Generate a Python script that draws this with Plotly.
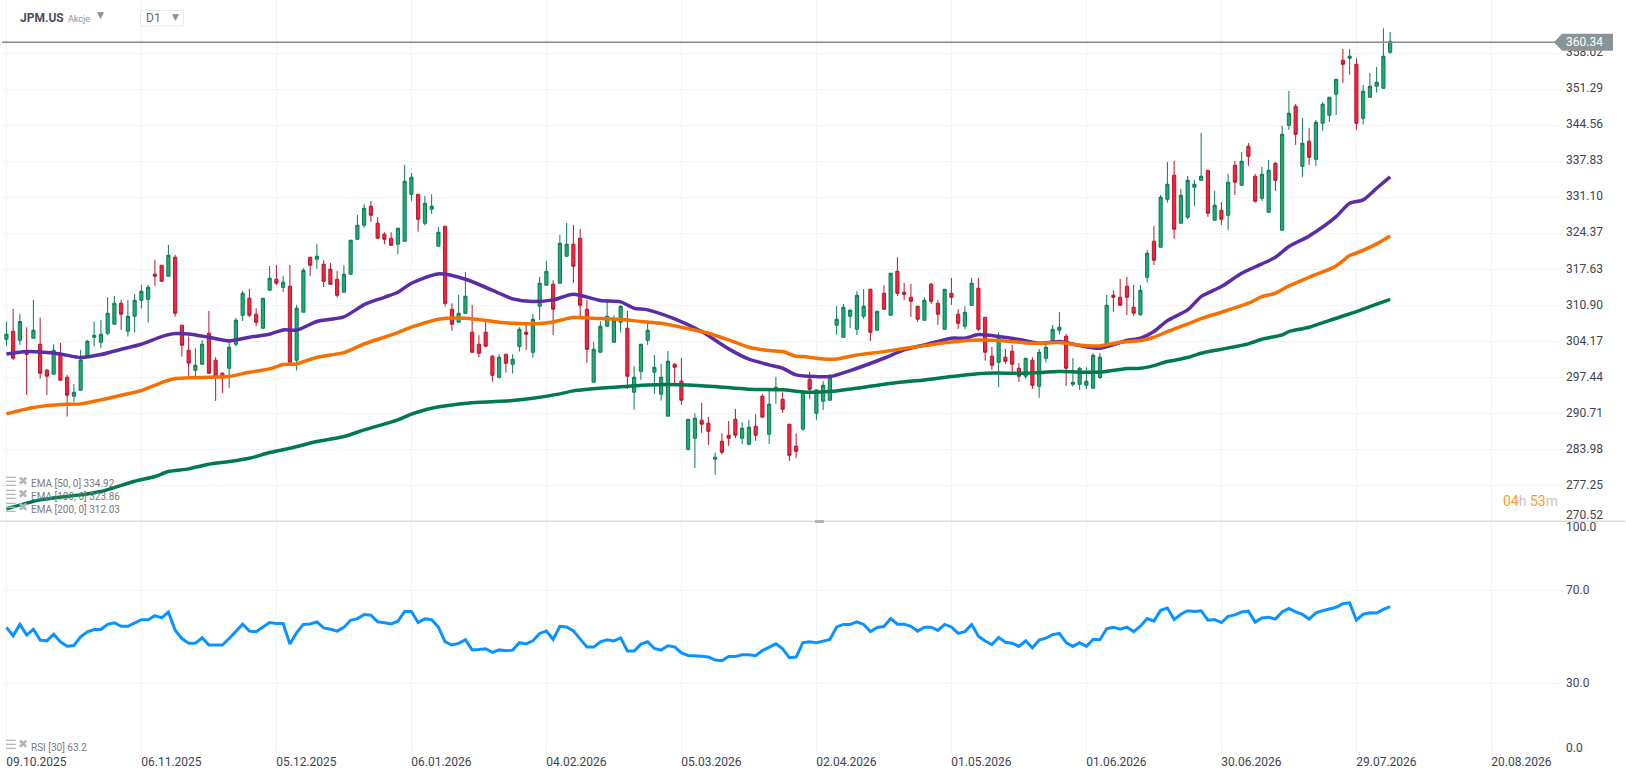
"""
plot.py — JPM.US daily candles with EMA 50/100/200 and an RSI pane below.
"""

import plotly.graph_objects as go
from plotly.subplots import make_subplots


# ── Data ──────────────────────────────────────────────────────────────────────

date_ticks = [0, 20, 40, 60, 80, 100, 120, 140, 160, 180, 200, 220]
date_labels = ["09.10.2025", "06.11.2025", "05.12.2025", "06.01.2026", "04.02.2026", "05.03.2026",
               "02.04.2026", "01.05.2026", "01.06.2026", "30.06.2026", "29.07.2026", "20.08.2026"]

price_ticks = [358.02, 351.29, 344.56, 337.83, 331.10, 324.37, 317.63,
               310.90, 304.17, 297.44, 290.71, 283.98, 277.25, 270.52]
rsi_ticks = [100, 70, 30, 0]

opens = [
    304.56, 306.06, 304.38, 301.95, 304.75, 303.63, 298.77, 298.02, 301.64, 297.46,
    293.91, 295.03, 301.32, 304.94, 304.00, 305.69, 307.37, 311.29, 306.06, 308.86,
    311.85, 312.04, 316.71, 318.39, 316.34, 319.89, 307.18, 302.51, 298.77, 299.89,
    305.69, 300.64, 298.21, 299.14, 303.63, 309.05, 312.23, 309.24, 306.62, 313.72,
    315.78, 314.28, 314.47, 300.64, 309.61, 319.89, 319.52, 318.58, 317.65, 315.78,
    313.35, 316.71, 323.25, 325.87, 329.42, 326.25, 324.19, 323.44, 322.32, 322.88,
    331.66, 331.66, 326.25, 328.86, 321.95, 325.69, 310.17, 307.74, 309.42, 305.87,
    303.63, 305.87, 301.39, 297.46, 301.76, 299.89, 303.19, 305.87, 302.13, 310.73,
    314.66, 314.84, 315.03, 320.08, 322.32, 323.44, 310.17, 296.53, 302.13, 307.00,
    304.00, 307.74, 306.62, 294.66, 298.58, 304.38, 298.40, 294.29, 290.18, 299.89,
    296.72, 284.00, 286.06, 289.43, 288.87, 282.14, 285.50, 286.62, 289.61, 286.06,
    284.94, 288.30, 293.91, 286.81, 295.03, 293.35, 288.68, 284.57, 287.78, 297.09,
    290.73, 292.97, 293.16, 307.18, 304.93, 308.86, 306.43, 308.86, 313.91, 306.24,
    313.16, 309.05, 317.27, 313.34, 312.41, 310.73, 308.11, 314.84, 311.29, 306.43,
    313.16, 309.23, 306.99, 310.91, 314.09, 308.67, 301.38, 300.26, 301.20, 302.32,
    299.14, 297.65, 300.64, 295.78, 301.01, 304.00, 306.24, 305.12, 296.15, 296.15,
    295.96, 295.40, 297.40, 303.51, 312.79, 312.42, 314.47, 310.55, 309.18, 316.15,
    322.88, 321.76, 330.73, 335.22, 326.25, 327.37, 332.97, 334.28, 336.15, 326.81,
    328.68, 327.74, 337.09, 333.35, 340.64, 335.03, 330.92, 328.30, 337.46, 324.94,
    344.56, 348.11, 336.90, 341.57, 338.21, 344.94, 346.43, 350.36, 356.71, 357.09,
    355.96, 345.87, 349.80, 351.85, 351.48, 358.21,
]
highs = [
    307.87, 310.23, 309.30, 306.81, 311.92, 308.61, 298.96, 303.63, 303.88, 297.90,
    296.15, 302.57, 304.44, 307.87, 308.18, 312.41, 312.66, 311.92, 311.92, 313.04,
    314.72, 314.72, 319.39, 318.39, 322.20, 320.33, 307.18, 305.06, 302.88, 304.44,
    309.86, 301.20, 298.40, 304.07, 308.55, 313.60, 313.97, 310.36, 312.23, 318.27,
    318.46, 316.40, 318.46, 310.98, 317.83, 319.89, 322.38, 319.33, 318.83, 317.34,
    318.39, 323.13, 327.80, 329.80, 330.42, 327.37, 324.56, 324.56, 325.31, 337.15,
    335.65, 331.66, 331.35, 331.66, 325.50, 325.69, 311.29, 312.85, 317.15, 310.98,
    305.31, 307.74, 301.64, 301.76, 301.76, 301.76, 306.81, 307.74, 309.30, 316.21,
    319.20, 315.59, 324.07, 326.30, 325.93, 325.19, 311.92, 304.07, 307.93, 312.04,
    309.05, 310.92, 309.86, 299.52, 303.63, 308.12, 301.64, 299.96, 302.38, 300.08,
    301.08, 289.61, 290.73, 292.67, 290.05, 283.38, 286.99, 289.30, 291.54, 289.05,
    289.49, 290.55, 294.29, 295.41, 297.52, 294.66, 288.68, 286.99, 295.10, 298.46,
    295.22, 296.71, 298.02, 310.79, 311.16, 310.23, 313.53, 313.97, 313.97, 309.79,
    314.65, 316.90, 319.89, 315.09, 314.90, 310.79, 312.41, 315.09, 311.85, 313.91,
    316.02, 310.17, 310.73, 316.02, 316.02, 308.67, 303.13, 305.87, 302.75, 303.50,
    300.08, 301.01, 301.20, 302.75, 303.81, 307.24, 309.67, 305.56, 301.01, 299.39,
    299.33, 301.94, 301.96, 312.85, 313.72, 315.84, 316.22, 314.72, 314.72, 321.26,
    325.75, 331.54, 337.71, 337.90, 332.66, 335.09, 334.35, 343.13, 336.15, 332.29,
    330.23, 335.47, 337.90, 339.58, 341.26, 335.47, 336.78, 338.08, 337.65, 344.44,
    350.98, 348.55, 345.93, 344.06, 345.56, 348.92, 349.80, 353.16, 358.83, 358.83,
    357.15, 352.10, 354.34, 355.47, 362.69, 362.01,
]
lows = [
    303.32, 300.70, 303.50, 294.16, 304.75, 297.15, 294.16, 298.02, 296.90, 290.11,
    292.85, 295.03, 301.32, 303.19, 302.94, 305.31, 307.37, 306.31, 305.06, 305.81,
    310.30, 307.68, 314.53, 315.41, 316.34, 308.80, 301.32, 297.71, 297.09, 299.89,
    298.21, 293.04, 294.53, 295.47, 303.19, 307.99, 308.68, 307.06, 306.62, 313.72,
    314.72, 313.41, 300.08, 298.71, 309.61, 316.40, 317.71, 314.34, 314.84, 312.35,
    313.35, 316.71, 323.25, 325.44, 326.49, 323.44, 322.32, 322.13, 320.51, 322.88,
    330.42, 324.69, 325.81, 327.99, 321.95, 310.67, 306.18, 307.74, 309.42, 301.95,
    301.14, 303.07, 296.65, 297.21, 298.33, 298.15, 302.26, 302.57, 301.14, 308.18,
    314.66, 305.37, 315.03, 320.08, 315.09, 308.86, 300.14, 296.53, 302.13, 307.00,
    304.00, 305.81, 295.28, 291.42, 296.97, 303.50, 294.35, 293.11, 290.18, 296.15,
    292.29, 283.75, 280.52, 287.06, 284.82, 279.21, 283.01, 284.63, 286.06, 285.00,
    284.75, 285.56, 289.99, 285.00, 292.48, 290.80, 281.82, 282.38, 287.40, 293.41,
    289.48, 291.35, 293.16, 305.37, 304.93, 306.68, 305.37, 308.36, 304.25, 306.24,
    310.17, 309.05, 312.66, 311.91, 308.73, 307.80, 308.11, 311.16, 307.24, 306.43,
    310.98, 306.49, 306.49, 310.91, 306.12, 300.57, 298.83, 295.65, 299.95, 298.46,
    296.59, 297.15, 295.28, 293.60, 300.20, 304.00, 305.43, 295.84, 295.71, 295.09,
    295.28, 295.40, 297.10, 303.51, 309.68, 310.92, 309.11, 308.93, 308.93, 315.16,
    318.46, 321.76, 330.11, 323.32, 326.25, 327.00, 329.49, 334.28, 327.43, 326.81,
    325.93, 324.98, 331.54, 333.35, 336.96, 330.11, 330.42, 328.30, 332.29, 324.94,
    343.69, 340.89, 334.91, 337.15, 336.96, 343.50, 345.19, 346.49, 352.48, 353.97,
    343.69, 344.69, 349.80, 350.67, 351.48, 357.96,
]
closes = [
    305.50, 301.02, 307.87, 301.76, 306.25, 298.21, 297.65, 302.51, 296.90, 294.10,
    294.66, 300.70, 304.19, 305.31, 305.50, 309.42, 311.29, 309.24, 308.86, 311.85,
    313.54, 314.28, 316.34, 315.41, 320.27, 309.42, 303.44, 300.08, 299.70, 303.63,
    298.21, 297.65, 297.46, 303.07, 308.12, 313.16, 309.05, 307.74, 312.23, 315.97,
    315.03, 315.22, 300.27, 310.36, 317.46, 318.39, 320.08, 315.41, 314.84, 312.79,
    316.71, 323.07, 325.87, 329.05, 327.74, 323.44, 323.25, 322.13, 325.31, 334.10,
    334.84, 326.99, 329.98, 329.42, 324.56, 311.29, 307.37, 309.42, 312.60, 302.13,
    301.95, 303.26, 297.84, 301.20, 300.08, 300.83, 306.43, 305.50, 308.30, 315.03,
    317.27, 310.17, 322.51, 322.32, 318.21, 310.92, 302.69, 302.69, 307.00, 308.86,
    308.12, 310.73, 297.65, 297.46, 303.63, 306.25, 299.33, 297.46, 300.46, 299.33,
    293.17, 289.61, 289.80, 288.68, 287.37, 282.51, 283.44, 286.06, 286.62, 287.93,
    288.12, 286.62, 289.99, 292.42, 295.59, 291.48, 282.88, 283.63, 294.70, 295.22,
    295.09, 295.96, 297.46, 308.30, 310.54, 309.98, 312.78, 310.73, 305.87, 309.79,
    310.17, 316.90, 313.16, 312.97, 311.66, 308.30, 311.85, 311.66, 309.23, 313.91,
    312.41, 307.55, 309.61, 315.03, 306.43, 302.13, 299.70, 304.75, 300.45, 299.89,
    297.65, 301.01, 295.96, 302.13, 303.07, 306.43, 306.80, 299.14, 296.52, 299.14,
    296.71, 301.57, 301.21, 310.92, 312.42, 310.92, 312.42, 309.43, 313.72, 320.64,
    319.33, 331.11, 333.54, 325.13, 331.48, 334.28, 333.54, 335.03, 328.12, 329.61,
    326.99, 333.91, 333.91, 337.83, 338.77, 330.36, 335.40, 336.15, 334.28, 342.88,
    346.81, 342.88, 341.20, 338.58, 345.12, 348.49, 349.80, 353.16, 355.96, 357.46,
    344.94, 350.92, 351.85, 352.60, 357.46, 360.26,
]

# EMA values read at the candles where the curve could be measured
ema50_x = [0, 3, 5, 8, 11, 14, 17, 20, 23, 25, 27, 30, 33, 36, 39, 41, 43, 46, 50, 53, 56, 58,
           60, 64, 68, 73, 75, 78, 81, 84, 88, 91, 93, 95, 99, 103, 107, 110, 113, 115, 117,
           120, 122, 125, 130, 133, 136, 140, 142, 144, 147, 151, 153, 156, 159, 162,
           166, 168, 170, 172, 175, 177, 180, 183, 186, 188, 190, 193, 197, 199, 201, 203, 205]
ema50 = [301.82, 302.26, 302.20, 301.82, 301.14, 301.70, 302.69, 303.63, 305.06, 305.62, 305.56,
         304.94, 304.25, 304.94, 305.50, 306.31, 306.25, 307.87, 308.74, 311.04, 312.41, 313.35,
         315.03, 316.78, 315.78, 313.16, 312.10, 311.60, 311.92, 312.97, 311.79, 311.54, 310.36,
         310.05, 308.37, 306.00, 302.76, 300.83, 299.77, 299.14, 297.90,
         297.58, 297.58, 298.70, 301.01, 302.57, 303.50, 304.75, 304.75, 305.43, 305.06, 304.31,
         303.81, 304.12, 303.38, 302.88,
         304.32, 304.75, 306.00, 308.05, 310.05, 312.54, 314.41, 316.90, 318.65, 319.89, 321.89,
         323.88, 327.49, 329.99, 330.61, 332.79, 334.92]

ema100_x = [0, 4, 8, 11, 14, 17, 20, 23, 25, 30, 33, 36, 39, 41, 43, 46, 50, 53, 56, 58,
            60, 64, 68, 73, 75, 79, 81, 84, 88, 91, 94, 97, 100, 104, 107, 110, 113, 115, 117,
            118, 121, 123, 126, 130, 135, 140, 144, 148, 152, 156, 159, 162,
            165, 168, 170, 172, 175, 177, 180, 184, 186, 188, 190, 193, 197, 199, 200, 203, 205]
ema100 = [290.61, 291.80, 292.36, 292.48, 293.23, 294.10, 294.97, 296.47, 297.21, 297.46, 297.59,
          298.40, 299.02, 299.83, 299.95, 301.20, 302.07, 303.69, 304.94, 305.81,
          306.81, 308.30, 308.49, 307.74, 307.55, 307.49, 307.80, 308.61, 308.43, 308.30, 307.87,
          307.55, 306.81, 305.69, 304.44, 303.07, 302.45, 302.26, 301.39,
          301.32, 300.88, 300.88, 301.63, 302.25, 303.19, 304.06, 304.44, 304.25, 303.81, 303.94,
          303.44, 303.32,
          304.01, 304.32, 304.94, 305.99, 307.43, 308.43, 309.61, 311.30, 312.54, 313.16, 314.53,
          316.15, 318.27, 320.21, 320.64, 322.39, 323.86]

ema200_x = [0, 5, 11, 14, 19, 22, 24, 27, 30, 33, 36, 39, 42, 46, 50, 53, 58,
            60, 63, 69, 75, 78, 82, 84, 90, 95, 101, 105, 110, 115, 118,
            122, 127, 132, 136, 140, 145, 151, 156, 162,
            166, 168, 170, 172, 175, 177, 180, 184, 186, 189, 190, 193, 197, 200, 202, 205]
ema200 = [272.87, 274.54, 275.47, 276.09, 278.02, 278.90, 279.83, 280.33, 281.20, 281.70, 282.32,
          283.38, 284.19, 285.44, 286.37, 287.62, 289.49,
          290.55, 291.67, 292.67, 293.11, 293.54, 294.35, 294.91, 295.59, 296.03, 296.03, 295.72,
          295.22, 295.10, 294.72,
          294.78, 295.59, 296.46, 296.96, 297.58, 298.21, 298.21, 298.52, 298.39,
          299.08, 299.15, 299.64, 300.39, 301.14, 301.95, 302.70, 303.70, 304.57, 305.38, 306.00,
          306.81, 308.49, 309.74, 310.67, 312.03]

rsi = [
    54.2, 50.6, 55.5, 50.9, 53.4, 48.7, 48.4, 51.3, 48.0, 46.1,
    46.4, 50.1, 52.3, 53.3, 53.3, 55.5, 56.2, 54.7, 54.7, 56.2,
    57.5, 57.5, 59.3, 58.3, 60.8, 53.0, 49.4, 47.4, 47.4, 49.7,
    46.6, 46.6, 46.6, 49.4, 52.6, 55.6, 52.6, 52.3, 54.4, 56.3,
    55.9, 55.9, 47.0, 52.0, 55.5, 55.7, 56.6, 54.0, 53.4, 52.6,
    54.2, 57.3, 58.0, 59.8, 59.5, 56.6, 56.2, 55.7, 56.9, 61.1,
    61.1, 56.3, 57.9, 57.5, 54.3, 48.0, 46.6, 47.3, 48.9, 44.5,
    44.7, 45.0, 43.4, 44.5, 44.1, 44.4, 47.6, 47.1, 48.4, 51.6,
    52.6, 49.0, 54.7, 54.4, 52.7, 49.4, 45.7, 45.7, 48.0, 48.9,
    48.4, 49.7, 44.0, 44.0, 47.0, 48.0, 45.1, 44.4, 46.3, 45.8,
    43.2, 42.1, 42.0, 41.8, 41.4, 40.1, 39.8, 41.7, 41.7, 42.4,
    42.4, 42.0, 44.2, 45.5, 47.1, 45.0, 41.1, 41.4, 47.6, 48.0,
    47.6, 48.3, 49.0, 54.4, 55.5, 55.5, 56.6, 55.5, 52.4, 54.2,
    54.6, 58.0, 55.6, 55.6, 54.7, 52.6, 54.3, 54.3, 52.9, 55.5,
    54.4, 51.6, 52.4, 55.5, 50.4, 48.3, 46.8, 49.9, 47.8, 47.4,
    46.0, 48.4, 45.4, 48.7, 49.6, 51.1, 51.6, 47.6, 46.0, 47.6,
    46.0, 49.1, 48.9, 53.6, 54.3, 53.4, 54.3, 52.4, 54.7, 58.0,
    56.9, 61.6, 62.6, 57.6, 59.9, 61.4, 61.1, 61.4, 57.3, 57.6,
    56.3, 59.0, 59.6, 60.9, 61.2, 56.5, 58.3, 58.6, 57.8, 60.9,
    62.4, 60.9, 59.8, 57.8, 60.5, 61.4, 62.1, 62.9, 64.4, 64.8,
    57.3, 59.9, 60.5, 60.4, 62.0, 63.2,
]

last_price = 360.1
last_price_label = "360.34"
legend_labels = ["EMA [50, 0] 334.92", "EMA [100, 0] 323.86", "EMA [200, 0] 312.03"]
rsi_label = "RSI [30] 63.2"


# ── Layout helpers ────────────────────────────────────────────────────────────

W, H = 1626, 779
LEFT, RIGHT, BOTTOM = 2, 1563, 753
SPLIT = 521.3


def px(x):
    return (x - LEFT) / (RIGHT - LEFT)


def py(y):
    return (BOTTOM - y) / BOTTOM


def label(text, x, y, size=12, color="#3d4450", font="Roboto", **kw):
    fig.add_annotation(text=text, x=px(x), y=py(y), xref="paper", yref="paper", xanchor="left",
                       yanchor="middle", showarrow=False, align="left", borderpad=0, borderwidth=0,
                       font=dict(family=font, size=size, color=color), **kw)


# ── Figure ────────────────────────────────────────────────────────────────────

candle_x = list(range(len(closes)))

fig = make_subplots(rows=2, cols=1, shared_xaxes=True, vertical_spacing=0,
                    row_heights=[SPLIT / BOTTOM, (BOTTOM - SPLIT) / BOTTOM])

fig.add_trace(go.Candlestick(
    x=candle_x, open=opens, high=highs, low=lows, close=closes,
    increasing=dict(fillcolor="#22aa72", line=dict(color="#0c7a52", width=1)),
    decreasing=dict(fillcolor="#f5253f", line=dict(color="#b3172c", width=1)),
    whiskerwidth=0,
), row=1, col=1)

for xs, ys, color in [(ema50_x, ema50, "#5a2ca6"),
                      (ema100_x, ema100, "#f57000"),
                      (ema200_x, ema200, "#00794f")]:
    fig.add_trace(go.Scatter(x=xs, y=ys, mode="lines",
                             line=dict(color=color, width=3.5, shape="spline", smoothing=0.7)), row=1, col=1)

fig.add_trace(go.Scatter(x=candle_x, y=rsi, mode="lines",
                         line=dict(color="#0a93ff", width=3)), row=2, col=1)

grid = "#f3f3f3"
fig.update_xaxes(range=[(LEFT - 6.4) / 6.75, (RIGHT - 6.4) / 6.75], tickmode="array",
                 tickvals=date_ticks, ticktext=date_labels, ticklabelshift=30,
                 showgrid=True, gridcolor=grid, gridwidth=1, zeroline=False, showline=False,
                 ticks="", rangeslider_visible=False, tickfont=dict(family="Roboto", size=12, color="#3d4450"))
fig.update_yaxes(side="right", showgrid=True, gridcolor=grid, gridwidth=1, zeroline=False,
                 showline=False, ticks="", tickmode="array", ticklabelstandoff=2, ticklabelshift=-1,
                 tickfont=dict(family="Roboto", size=12, color="#3d4450"))
fig.update_yaxes(range=[270.53, 367.98], tickvals=price_ticks,
                 ticktext=[f"{t:.2f}" for t in price_ticks[:-1]] + [""], row=1, col=1)
fig.update_yaxes(range=[0, 100], tickvals=rsi_ticks, ticktext=["", "70.0", "30.0", ""], row=2, col=1)

fig.update_layout(
    width=W, height=H, showlegend=False, hovermode=False,
    paper_bgcolor="white", plot_bgcolor="white", boxgap=0.33,
    margin=dict(l=LEFT, r=W - RIGHT, t=0, b=H - BOTTOM),
)

# Pane separator, its drag handle, and the last-price line with its arrow tag
fig.add_shape(type="line", xref="paper", yref="paper", x0=-0.002, x1=1.04, y0=py(SPLIT), y1=py(SPLIT),
              line=dict(color="#dcdcdc", width=1.5))
fig.add_shape(type="rect", xref="paper", yref="paper", x0=px(815), x1=px(824), y0=py(523), y1=py(520),
              fillcolor="#b5b5b5", line_width=0)
fig.add_shape(type="line", xref="paper", yref="y", x0=0, x1=px(1556), y0=last_price, y1=last_price,
              line=dict(color="#7f8b8d", width=1.5))
fig.add_shape(type="path", xref="paper", yref="y", xsizemode="pixel", ysizemode="pixel",
              xanchor=px(1554), yanchor=last_price,
              path="M 0 0 L 8 -8.5 L 59 -8.5 L 59 8.5 L 8 8.5 Z", fillcolor="#8a9496", line_width=0)
label(last_price_label, 1566, 42.3, color="white")

# Labels the chart squeezes inward at the pane edges
label("270.52", 1566, 515)
label("100.0", 1566, 527)
label("0.0", 1566, 748)

# Header: symbol, type and the timeframe box
fig.add_shape(type="rect", xref="paper", yref="paper", x0=px(140.5), x1=px(183.5), y0=py(26), y1=py(10.5),
              fillcolor="white", line=dict(color="#e9e9e9", width=1))
label("<b>JPM.US</b>", 20, 18, size=12, color="#4a4f55")
label("Akcje", 68, 19, size=9, color="#8a8f94")
label("▼", 97, 15.5, size=9, color="#8f8f8f", font="DejaVu Sans")
label("D1", 146, 18, size=12, color="#666b70")
label("▼", 172, 17.5, size=9, color="#8f8f8f", font="DejaVu Sans")

# Indicator legends with their small control icons
for text, y in zip(legend_labels, [483, 496, 509]):
    label("☰", 5, y - 2, size=13, color="#b5b5b5", font="DejaVu Sans")
    label("✖", 18, y - 2, size=12, color="#b5b5b5", font="DejaVu Sans")
    label(text, 31, y, size=10, color="#7b7b7b")
label("☰", 5, 744, size=13, color="#b5b5b5", font="DejaVu Sans")
label("✖", 18, 744, size=12, color="#b5b5b5", font="DejaVu Sans")
label(rsi_label, 31, 747.5, size=10, color="#7b7b7b")

# Countdown to the next candle
orange = "color:#ff9a1f"
grey = "color:#c4c4c4"
label(f'<span style="{orange}">04</span><span style="{grey}">h </span>'
      f'<span style="{orange}">53</span><span style="{grey}">m</span>', 1503, 501, size=14)

fig.write_html("out.html", config={"displayModeBar": False},
               post_script="document.body.style.margin='0';document.body.style.overflow='hidden';")
